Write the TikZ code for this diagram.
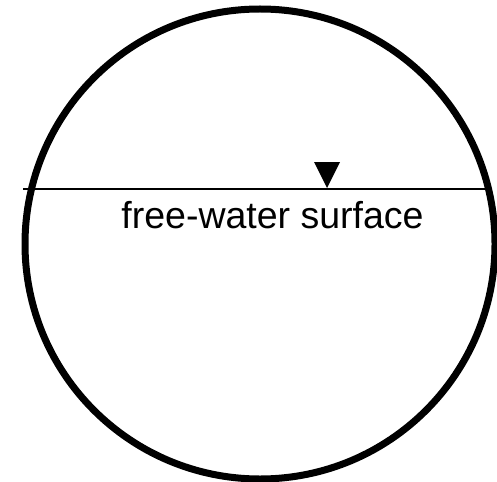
\documentclass[tikz,border=0pt]{standalone}
\usepackage{fontspec}
\setmainfont{Liberation Sans}
\usetikzlibrary{positioning}

\begin{document}
\begin{tikzpicture}[x=1pt, y=-1pt]
	\useasboundingbox (0,0) rectangle (497,481);
	
	% Pipe wall
	\draw[line width=7pt] (260,244) circle (235pt);
	
	% Free-water surface
	\coordinate (L) at (23,189);
	\coordinate (R) at (487,189);
	\draw[line width=2pt] (L) -- (R);
	
	% Water level marker
	\fill (314,162) -- (340,162) -- (327,188) -- cycle;
	
	% Label
	\node[anchor=base, font=\fontsize{37.5}{42}\selectfont, inner sep=0pt] (lbl) at (272.5,228) {free-water surface};
\end{tikzpicture}
\end{document}
